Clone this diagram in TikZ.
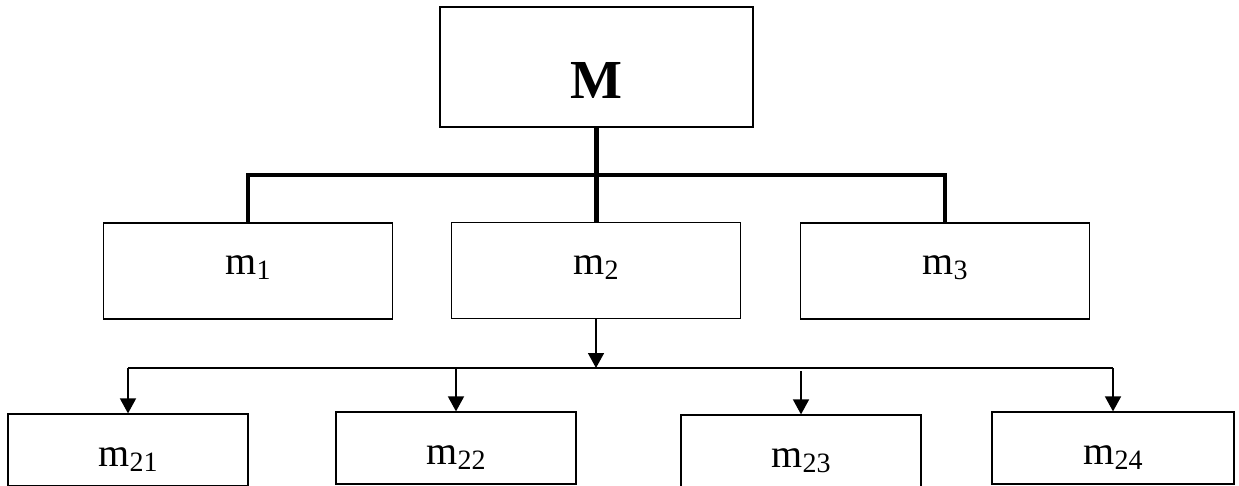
\documentclass[tikz,border=0pt]{standalone}
\usepackage{fontspec}
\setmainfont{Liberation Serif}
\usetikzlibrary{arrows.meta}
\newcommand{\msubx}[1]{m\raisebox{-5pt}{\fontsize{28}{28}\selectfont #1}}
\begin{document}
\begin{tikzpicture}[x=1pt,y=-1pt,
  boxbase/.style={draw, line width=1.2pt, inner sep=0pt, font=\fontsize{40}{44}\selectfont},
  topbox/.style={boxbase, minimum width=313pt, minimum height=120pt, text height=64pt, text depth=0pt, font=\fontsize{55}{60}\selectfont\bfseries},
  midbox/.style={boxbase, minimum width=289pt, minimum height=96pt, text height=18pt, text depth=10pt},
  lowbox/.style={boxbase, minimum width=240pt, minimum height=72pt, text height=38pt, text depth=6pt},
  heavy/.style={line width=4.6pt, line join=miter},
  thinline/.style={line width=1.4pt},
  arr/.style={line width=1.6pt, -{Triangle[width=16pt,length=15pt]}}
]
\useasboundingbox (0,0) rectangle (1239,486);
\fill[white] (0,0) rectangle (1239,486);

\node[topbox] (M) at (596.5,67) {M};
\node[midbox] (m1) at (248,271) {\msubx{1}};
\node[midbox] (m2) at (596,270.5) {\msubx{2}};
\node[midbox] (m3) at (945,271) {\msubx{3}};

\node[lowbox] (m21) at (128,450) {\msubx{21}};
\node[lowbox] (m22) at (456,448) {\msubx{22}};
\node[lowbox] (m23) at (801,451) {\msubx{23}};
\node[lowbox, minimum width=242pt] (m24) at (1113,448) {\msubx{24}};

% upper connectors
\coordinate (busc) at (596,175);
\draw[heavy] (M.south) -- (M.south |- m2.north);
\draw[heavy] (m1.north) -- (m1.north |- busc) -- (m3.north |- busc) -- (m3.north);

% lower connectors
\coordinate (lb) at (596,368);
\draw[arr] (m2.south) -- (lb);
\draw[thinline] (m21.north |- lb) -- (m24.north |- lb);
\draw[arr] (m21.north |- lb) -- (m21.north);
\draw[arr] (m22.north |- lb) -- (m22.north);
\draw[arr] ([yshift=-3pt]m23.north |- lb) -- (m23.north);
\draw[arr] (m24.north |- lb) -- (m24.north);
\end{tikzpicture}
\end{document}
